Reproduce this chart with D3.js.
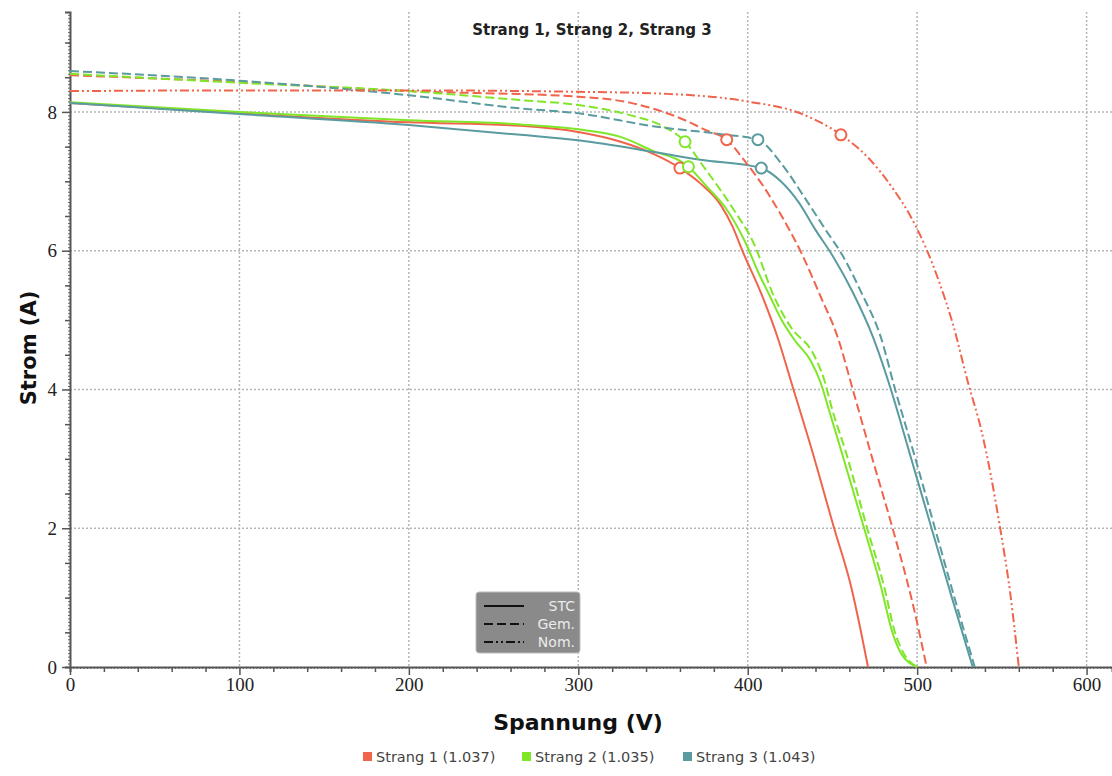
<!DOCTYPE html>
<meta charset="utf-8">
<style>
  body { margin: 0; background: #fff; }
  .grid line { stroke: #b5b5b5; stroke-width: 1.5px; stroke-dasharray: 2,2; }
  .tick text { font-family: "Liberation Serif", serif; font-size: 19px; fill: #222; }
  .curve { fill: none; stroke-width: 2px; }
</style>
<svg width="1112" height="776"></svg>
<script src="https://d3js.org/d3.v7.min.js"></script>
<script>
var svg = d3.select("svg");

// strings and colours
var strings = ["Strang 1 (1.037)", "Strang 2 (1.035)", "Strang 3 (1.043)"];
var colors = ["#f0644c", "#7fe628", "#5a9ba0"];
var kinds = ["STC", "Gem.", "Nom."];
var dashes = ["", "9,4", "9,3,2,3,2,3"];

// I-V curves, [voltage, current]
var s1_stc = [[0,8.13],[100,7.98],[200,7.85],[266,7.8],[300,7.71],[325,7.57],[343,7.41],[360,7.19],[372,6.97],[384,6.66],[391,6.35],[397,5.99],[408,5.38],[417.5,4.76],[427,4.0],[437,3.2],[451,2.0],[461,1.16],[467,0.49],[471,0]];
var s2_stc = [[0,8.14],[100,8.0],[200,7.88],[266,7.82],[300,7.75],[325,7.64],[343,7.45],[365,7.21],[376,6.92],[388,6.58],[399,6.1],[406,5.7],[413,5.35],[420,5.0],[428,4.7],[437,4.42],[443,4.1],[448,3.7],[455,3.13],[468.7,2.0],[478.6,1.16],[485.5,0.49],[490.4,0.2],[500,0]];
var s3_stc = [[0,8.13],[100,7.97],[200,7.81],[266,7.67],[300,7.59],[343,7.43],[372,7.31],[408,7.19],[419.5,7.0],[430,6.7],[440,6.3],[450,5.93],[462,5.4],[474,4.75],[484.5,4.0],[496.5,3.0],[508.5,2.0],[520.5,1.0],[532.8,0]];
var s1_gem = [[0,8.53],[100,8.43],[200,8.3],[300,8.22],[331,8.13],[363,7.88],[375,7.74],[387.6,7.6],[398,7.3],[410,6.9],[420,6.5],[432,5.95],[443,5.34],[453,4.76],[462,4.0],[473,3.05],[485.5,2.0],[498,0.85],[505.6,0]];
var s2_gem = [[0,8.55],[100,8.42],[200,8.3],[266,8.17],[300,8.1],[331,7.95],[348.6,7.81],[363,7.57],[374,7.21],[392,6.58],[403.5,6.11],[415.5,5.34],[425.4,4.9],[439,4.5],[445,4.15],[450,3.7],[457.5,3.13],[470.5,2.0],[480.5,1.16],[487,0.49],[492,0.2],[500,0]];
var s3_gem = [[0,8.59],[100,8.45],[200,8.24],[266,8.05],[300,7.98],[345,7.79],[384,7.68],[406,7.6],[420,7.25],[434,6.75],[446,6.3],[456,5.93],[467,5.4],[478.6,4.75],[487,4.0],[499,3.0],[510.5,2.0],[522,1.0],[534,0]];
var s1_nom = [[0,8.3],[100,8.31],[200,8.31],[300,8.29],[352.5,8.26],[400,8.15],[431,7.98],[455,7.67],[470.7,7.35],[486.4,6.87],[496,6.5],[505,6.05],[513,5.55],[521,4.95],[530,4.1],[538,3.4],[549,2.0],[555,1.05],[560,0]];

// maximum power points
var mpp = [[360,7.19,0],[365,7.21,1],[408,7.19,2],[387.6,7.6,0],[363,7.57,1],[406,7.6,2],[455,7.67,0]];

var curves = [
  {pts: s1_stc, s: 0, k: 0}, {pts: s2_stc, s: 1, k: 0}, {pts: s3_stc, s: 2, k: 0},
  {pts: s1_gem, s: 0, k: 1}, {pts: s2_gem, s: 1, k: 1}, {pts: s3_gem, s: 2, k: 1},
  {pts: s1_nom, s: 0, k: 2}
];

var x = d3.scaleLinear().domain([0, 615]).range([70, 1112]);
var y = d3.scaleLinear().domain([0, 9.44]).range([667, 12]);

// grid
var grid = svg.append("g").attr("class", "grid");
grid.selectAll(".gx").data(d3.range(100, 700, 100)).enter().append("line")
    .attr("x1", d => x(d)).attr("x2", d => x(d)).attr("y1", y(9.44)).attr("y2", y(0));
grid.selectAll(".gy").data([2, 4, 6, 8]).enter().append("line")
    .attr("x1", x(0)).attr("x2", x(615)).attr("y1", d => y(d)).attr("y2", d => y(d));

// ruler-like minor ticks
svg.append("g").attr("transform", "translate(0,667)")
   .call(d3.axisBottom(x).tickValues(d3.range(0, 615, 2)).tickSize(2).tickFormat(""))
   .call(g => g.selectAll("line").attr("stroke", "#666"));
svg.append("g").attr("transform", "translate(70,0)")
   .call(d3.axisLeft(y).tickValues(d3.range(0, 9.44, 0.05)).tickSize(2).tickFormat(""))
   .call(g => g.selectAll("line").attr("stroke", "#666"));

// axes
var xAxis = svg.append("g").attr("transform", "translate(0,667)")
   .call(d3.axisBottom(x).tickValues(d3.range(0, 615, 20)).tickSize(5).tickPadding(6)
         .tickFormat(d => d % 100 == 0 ? d : ""));
var yAxis = svg.append("g").attr("transform", "translate(70,0)")
   .call(d3.axisLeft(y).tickValues(d3.range(0, 9.44, 0.5)).tickSize(5).tickPadding(8)
         .tickFormat(d => d % 2 == 0 ? d : ""));
[xAxis, yAxis].forEach(function(a) {
  a.select(".domain").attr("stroke", "#555").attr("stroke-width", 2);
  a.selectAll(".tick line").attr("stroke", "#555").attr("stroke-width", 1.5);
});
xAxis.selectAll(".tick").filter(d => d % 100 == 0).select("line").attr("y2", 8);
yAxis.selectAll(".tick").filter(d => d % 2 == 0).select("line").attr("x2", -8);

// curves
var line = d3.line().x(d => x(d[0])).y(d => y(d[1])).curve(d3.curveMonotoneX);
svg.append("g").selectAll("path").data(curves).enter().append("path")
   .attr("class", "curve")
   .attr("d", d => line(d.pts))
   .attr("stroke", d => colors[d.s])
   .attr("stroke-dasharray", d => dashes[d.k]);

svg.append("g").selectAll("circle").data(mpp).enter().append("circle")
   .attr("cx", d => x(d[0])).attr("cy", d => y(d[1])).attr("r", 5.5)
   .attr("fill", "#fff").attr("stroke", d => colors[d[2]]).attr("stroke-width", 2);

// title and axis titles
svg.append("text").attr("x", 592).attr("y", 35).attr("text-anchor", "middle")
   .style("font-family", "DejaVu Sans, sans-serif").style("font-weight", "bold").style("font-size", "15px")
   .attr("fill", "#222").text("Strang 1, Strang 2, Strang 3");
svg.append("text").attr("x", 578).attr("y", 730).attr("text-anchor", "middle")
   .style("font-family", "DejaVu Sans, sans-serif").style("font-weight", "bold").style("font-size", "22px")
   .attr("fill", "#111").text("Spannung (V)");
svg.append("text").attr("transform", "translate(36,348) rotate(-90)").attr("text-anchor", "middle")
   .style("font-family", "DejaVu Sans, sans-serif").style("font-weight", "bold").style("font-size", "21px")
   .attr("fill", "#111").text("Strom (A)");

// line style legend
var lg = svg.append("g").attr("transform", "translate(476,592)");
lg.append("rect").attr("width", 104).attr("height", 61).attr("rx", 3)
  .attr("fill", "#8a8a8a").attr("stroke", "#bdbdbd");
lg.selectAll("line").data(kinds).enter().append("line")
  .attr("x1", 8).attr("x2", 48).attr("y1", (d, i) => 14 + i * 18).attr("y2", (d, i) => 14 + i * 18)
  .attr("stroke", "#111").attr("stroke-width", 2).attr("stroke-dasharray", (d, i) => dashes[i]);
lg.selectAll("text").data(kinds).enter().append("text")
  .attr("x", 99).attr("y", (d, i) => 19 + i * 18).attr("text-anchor", "end")
  .style("font-family", "DejaVu Sans, sans-serif").style("font-size", "14px")
  .attr("fill", "#ececec").text(d => d);

// series legend
var legX = [363, 522, 683];
var sl = svg.append("g").selectAll("g").data(strings).enter().append("g")
   .attr("transform", (d, i) => "translate(" + legX[i] + ",752)");
sl.append("rect").attr("width", 9).attr("height", 9).attr("fill", (d, i) => colors[i]);
sl.append("text").attr("x", 13).attr("y", 10)
  .style("font-family", "DejaVu Sans, sans-serif").style("font-size", "14.5px")
  .attr("fill", "#444").text(d => d);
</script>
